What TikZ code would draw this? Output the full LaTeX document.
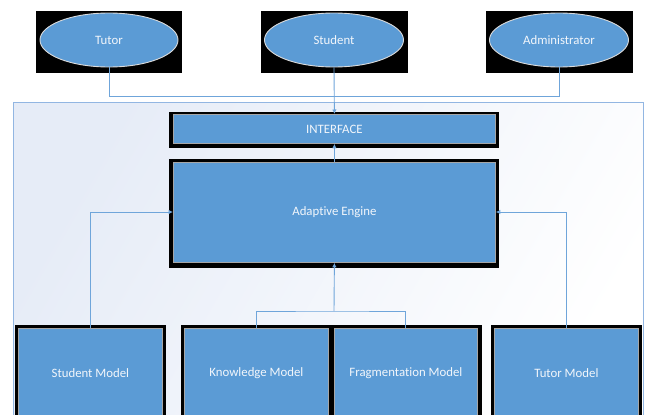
\documentclass[tikz,border=0pt]{standalone}
\usepackage{fontspec}
\setmainfont{Carlito}[Ligatures={NoCommon,NoContextual}]
\usetikzlibrary{arrows.meta,shapes.geometric}
\definecolor{boxblue}{HTML}{5B9BD5}
\definecolor{linkblue}{HTML}{6FA5DA}
\definecolor{frameblue}{HTML}{92B6E2}
\definecolor{paleblue}{HTML}{E6ECF7}
\definecolor{rimgray}{HTML}{A6A6A6}
\definecolor{labelwhite}{HTML}{F2F6FB}
\tikzset{
  module/.style={rectangle, fill=boxblue, draw=rimgray, line width=0.8pt,
    inner sep=0pt, text=labelwhite, font=\fontsize{12.8}{15}\selectfont},
  actor/.style={ellipse, fill=boxblue, draw=rimgray!40, line width=0.9pt,
    inner sep=0pt, text=labelwhite, font=\fontsize{12.8}{15}\selectfont},
  backing/.style={fill=black},
  link/.style={draw=linkblue, line width=0.9pt},
  arrowlink/.style={link, -{Latex[length=4.5pt,width=4.5pt]}}
}
\begin{document}
\begin{tikzpicture}[x=1pt,y=-1pt]
\useasboundingbox (0,0) rectangle (646,415);
\clip (0,0) rectangle (646,415);

% outer system frame with a soft wash
\shade[left color=paleblue, right color=white, shading angle=60]
  (13,102) rectangle (643,440);
\draw[frameblue, line width=1pt] (13,102) rectangle (643,440);

% actor panels
\fill[backing] (36,11) rectangle (182,73);
\fill[backing] (261,11) rectangle (408,73);
\fill[backing] (486,11) rectangle (633,73);
\node[actor, minimum width=138pt, minimum height=54pt] (tutor) at (109,40) {Tutor};
\node[actor, minimum width=139pt, minimum height=54pt] (student) at (334,40) {Student};
\node[actor, minimum width=139pt, minimum height=54pt] (admin) at (559,40) {Administrator};

% core boxes
\fill[backing] (169,112) rectangle (499,148);
\node[module, minimum width=322pt, minimum height=29pt, anchor=north west] (iface) at (173,114) {INTERFACE};
\fill[backing] (169,159) rectangle (499,268);
\node[module, minimum width=322pt, minimum height=100pt, anchor=north west] (engine) at (173,162) {Adaptive Engine};

% model boxes
\fill[backing] (15,325) rectangle (166,430);
\node[module, minimum width=144pt, minimum height=90pt, anchor=north west] (smodel) at (18,328) {Student Model};
\fill[backing] (181,325) rectangle (482,430);
\node[module, minimum width=144pt, minimum height=90pt, anchor=north west] (kmodel) at (184,328) {Knowledge Model};
\node[module, minimum width=143pt, minimum height=90pt, anchor=north west] (fmodel) at (334,328) {Fragmentation Model};
\fill[backing] (491,325) rectangle (642,430);
\node[module, minimum width=144pt, minimum height=90pt, anchor=north west] (tmodel) at (494,328) {Tutor Model};

% actor links into the interface
\coordinate (join) at (334,96);
\draw[link] (tutor.south) |- (join);
\draw[link] (admin.south) |- (join);
\draw[arrowlink] (student.south) -- (iface.north);

% engine to interface
\draw[arrowlink] (engine.north) -- (iface.south);

% side models into the engine
\draw[arrowlink] (smodel.north) |- (engine.west |- 0,212);
\draw[arrowlink] (tmodel.north) |- (engine.east |- 0,212);

% knowledge and fragmentation share one feed
\coordinate (fork) at (334,311);
\draw[link] (kmodel.north) |- (fork) -| (fmodel.north);
\draw[arrowlink] (fork) -- (engine.south);
\end{tikzpicture}
\end{document}
